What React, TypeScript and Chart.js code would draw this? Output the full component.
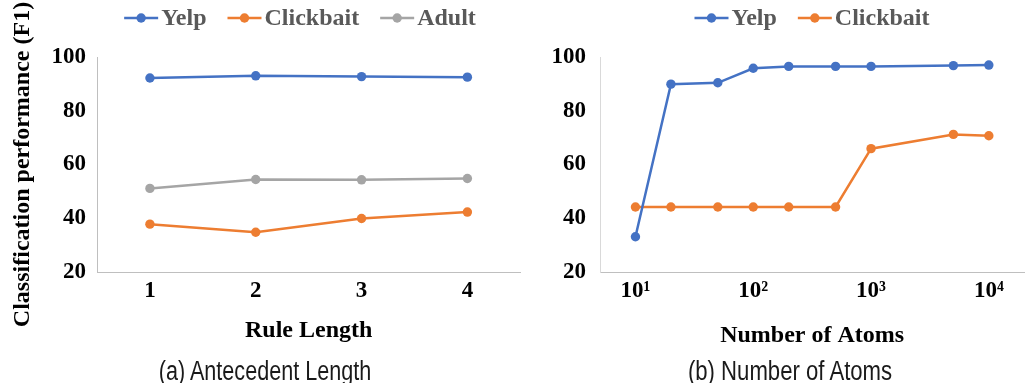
import React, { useEffect, useRef } from "react";
import { Chart, registerables } from "chart.js";

Chart.register(...registerables);

// ---------- Data ----------
const ruleLengths = ["1", "2", "3", "4"];
const yelpByLength = [92.2, 93.0, 92.7, 92.5];
const clickbaitByLength = [37.8, 34.8, 39.9, 42.3];
const adultByLength = [51.1, 54.4, 54.3, 54.8];

const atomCounts = [10, 20, 50, 100, 200, 500, 1000, 5000, 10000];
const yelpByAtoms = [33.1, 89.9, 90.4, 95.8, 96.5, 96.5, 96.5, 96.8, 97.0];
const clickbaitByAtoms = [44.2, 44.2, 44.2, 44.2, 44.2, 44.2, 65.9, 71.2, 70.7];
const atomTickValues = [10, 100, 1000, 10000];
const atomTickLabels = ["10¹", "10²", "10³", "10⁴"];

const seriesNames = ["Yelp", "Clickbait", "Adult"];
const seriesColors = ["#4472C4", "#ED7D31", "#A5A5A5"];

const yAxisTitle = "Classification performance (F1)";
const leftXTitle = "Rule Length";
const rightXTitle = "Number of Atoms";
const captionA = "(a) Antecedent Length";
const captionB = "(b) Number of Atoms";

const SERIF = "'Liberation Serif', 'Times New Roman', serif";
const H = 383;

// ---------- custom line+marker legend ----------
const lineLegend = {
  id: "lineLegend",
  afterDraw(chart: any, _args: any, opts: any) {
    const ctx = chart.ctx;
    ctx.save();
    ctx.font = `bold 24px ${SERIF}`;
    const items = chart.data.datasets.map((ds: any) => ({
      label: ds.label,
      color: ds.borderColor,
      w: ctx.measureText(ds.label).width,
    }));
    const markerW = 34;
    const gap = 3;
    const itemGap = 21;
    const total =
      items.reduce((s: number, it: any) => s + markerW + gap + it.w, 0) +
      itemGap * (items.length - 1);
    let x = opts.centerX - total / 2;
    const y = opts.y;
    for (const it of items) {
      ctx.strokeStyle = it.color;
      ctx.lineWidth = 2.5;
      ctx.beginPath();
      ctx.moveTo(x, y);
      ctx.lineTo(x + markerW, y);
      ctx.stroke();
      ctx.fillStyle = it.color;
      ctx.beginPath();
      ctx.arc(x + markerW / 2, y, 4.7, 0, Math.PI * 2);
      ctx.fill();
      ctx.fillStyle = "#595959";
      ctx.textBaseline = "middle";
      ctx.textAlign = "left";
      ctx.fillText(it.label, x + markerW + gap, y + 1);
      x += markerW + gap + it.w + itemGap;
    }
    ctx.restore();
  },
};

const lineDs = (label: string, color: string, data: any[]) => ({
  label,
  data,
  borderColor: color,
  backgroundColor: color,
  pointBackgroundColor: color,
  pointBorderColor: color,
  borderWidth: 2.5,
  pointRadius: 4.7,
  pointBorderWidth: 0,
  tension: 0,
});

const tickFont = { family: SERIF, size: 23, weight: "bold" as const };
const titleFont = { family: SERIF, size: 24, weight: "bold" as const };

function yScale(width: number, pad: number, borderColor: string, withTitle: boolean) {
  return {
    type: "linear",
    min: 20,
    max: 100,
    afterFit: (s: any) => {
      s.width = width;
    },
    ticks: { stepSize: 20, color: "#000", font: tickFont, padding: pad },
    grid: { display: false, drawTicks: false },
    border: { display: true, color: borderColor, width: 1 },
    title: {
      display: withTitle,
      text: yAxisTitle,
      color: "#000",
      font: titleFont,
      padding: { top: 8, bottom: 0 },
    },
  };
}

function useChart(ref: React.RefObject<HTMLCanvasElement>, makeConfig: () => any) {
  useEffect(() => {
    if (!ref.current) return;
    const chart = new Chart(ref.current, makeConfig());
    return () => chart.destroy();
  }, []);
}

export default function App() {
  const leftRef = useRef<HTMLCanvasElement>(null);
  const rightRef = useRef<HTMLCanvasElement>(null);

  useEffect(() => {
    document.body.style.margin = "0";
    document.body.style.overflow = "hidden";
  }, []);

  const LW = 525;
  const RW = 1029 - LW;

  useChart(leftRef as any, () => ({
    type: "line",
    data: {
      labels: ruleLengths,
      datasets: [
        lineDs(seriesNames[0], seriesColors[0], yelpByLength),
        lineDs(seriesNames[1], seriesColors[1], clickbaitByLength),
        lineDs(seriesNames[2], seriesColors[2], adultByLength),
      ],
    },
    options: {
      responsive: false,
      animation: false,
      layout: { padding: { top: 57, left: 0, right: 0, bottom: 0 } },
      plugins: {
        legend: { display: false },
        tooltip: { enabled: false },
        lineLegend: { centerX: 300, y: 18 },
      },
      scales: {
        x: {
          type: "category",
          offset: true,
          afterFit: (s: any) => {
            s.height = H - 272;
          },
          ticks: { color: "#000", font: tickFont, padding: 5 },
          grid: { display: false, drawTicks: false },
          border: { display: true, color: "#BFBFBF", width: 1 },
          title: {
            display: true,
            text: leftXTitle,
            color: "#000",
            font: titleFont,
            padding: { top: 0, bottom: 38 },
          },
        },
        y: yScale(97, 11, "#BFBFBF", true),
      },
    },
    plugins: [lineLegend],
  }));

  useChart(rightRef as any, () => ({
    type: "line",
    data: {
      datasets: [
        lineDs(
          seriesNames[0],
          seriesColors[0],
          atomCounts.map((x, i) => ({ x, y: yelpByAtoms[i] }))
        ),
        lineDs(
          seriesNames[1],
          seriesColors[1],
          atomCounts.map((x, i) => ({ x, y: clickbaitByAtoms[i] }))
        ),
      ],
    },
    options: {
      responsive: false,
      animation: false,
      layout: { padding: { top: 57, left: 0, right: 0, bottom: 0 } },
      plugins: {
        legend: { display: false },
        tooltip: { enabled: false },
        lineLegend: { centerX: 812 - LW, y: 18 },
      },
      scales: {
        x: {
          type: "logarithmic",
          min: 5,
          max: 20000,
          bounds: "data",
          afterFit: (s: any) => {
            s.height = H - 272;
          },
          afterBuildTicks: (s: any) => {
            s.ticks = atomTickValues.map((v) => ({ value: v, major: false }));
          },
          ticks: {
            color: "#000",
            font: tickFont,
            padding: 5,
            autoSkip: false,
            maxRotation: 0,
            callback: (_v: any, i: number) => atomTickLabels[i],
          },
          grid: { display: false, drawTicks: false },
          border: { display: true, color: "#BFBFBF", width: 1 },
          title: {
            display: true,
            text: rightXTitle,
            color: "#000",
            font: titleFont,
            padding: { top: 0, bottom: 33 },
          },
        },
        y: yScale(600 - LW, 14, "#D9D9D9", false),
      },
    },
    plugins: [lineLegend],
  }));

  const captionStyle = (center: number, sx: number): React.CSSProperties => ({
    position: "absolute",
    left: center,
    top: 356,
    height: 30,
    lineHeight: "30px",
    fontFamily: "'Liberation Sans', Arial, sans-serif",
    fontSize: 27,
    color: "#1a1a1a",
    whiteSpace: "nowrap",
    transform: `translateX(-50%) scaleX(${sx})`,
    transformOrigin: "center",
  });

  return (
    <div
      style={{
        position: "absolute",
        left: 0,
        top: 0,
        width: 1029,
        height: H,
        overflow: "hidden",
        background: "#fff",
      }}
    >
      <canvas
        ref={leftRef}
        width={LW}
        height={H}
        style={{ position: "absolute", left: 0, top: 0, width: LW, height: H }}
      />
      <canvas
        ref={rightRef}
        width={RW}
        height={H}
        style={{ position: "absolute", left: LW, top: 0, width: RW, height: H }}
      />
      <div style={captionStyle(265, 0.8)}>{captionA}</div>
      <div style={captionStyle(790, 0.82)}>{captionB}</div>
    </div>
  );
}
